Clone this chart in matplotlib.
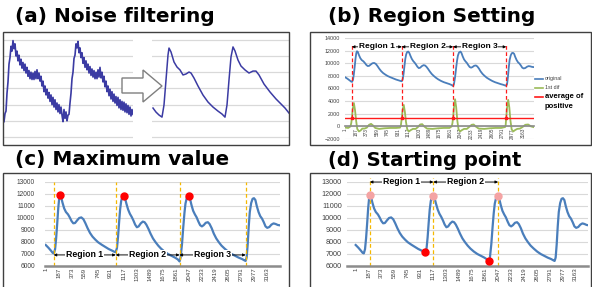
import numpy as np
import matplotlib.pyplot as plt
from matplotlib.patches import Rectangle, Polygon
from matplotlib.lines import Line2D

plt.rcParams['font.family'] = ['Liberation Sans', 'DejaVu Sans']

W, H = 592, 287

# (a) raw sensor trace (one sample per pixel column) and the filtered trace
raw_val = [0.95, 1.45, 1.6, 2.7, 3.4, 4.5, 4.9, 5.6, 5.3, 5.95,
           5.45, 5.75, 5.0, 5.3, 4.7, 5.05, 4.45, 4.8, 4.25, 4.6,
           4.1, 4.5, 3.95, 4.3, 3.75, 4.1, 3.6, 4.0, 3.55, 3.95,
           3.55, 4.05, 3.6, 4.15, 3.6, 3.95, 3.45, 3.75, 3.15, 3.45,
           2.8, 3.15, 2.6, 2.95, 2.4, 2.75, 2.2, 2.6, 2.0, 2.45,
           1.85, 2.3, 1.7, 2.1, 1.55, 2.0, 1.45, 1.85, 1.35, 0.95,
           1.7, 1.15, 1.55, 1.0, 1.35, 1.4, 2.1, 2.7, 3.6, 4.0,
           4.85, 5.05, 5.75, 5.5, 5.9, 5.2, 5.5, 4.9, 5.2, 4.55,
           4.9, 4.3, 4.7, 4.15, 4.5, 3.95, 4.35, 3.8, 4.2, 3.7,
           4.1, 3.6, 4.0, 3.6, 4.15, 3.7, 4.3, 3.65, 4.0, 3.4,
           3.75, 3.1, 3.45, 2.8, 3.15, 2.55, 2.95, 2.35, 2.8, 2.2,
           2.65, 2.1, 2.5, 1.95, 2.45, 1.8, 2.3, 1.7, 2.2, 1.65,
           2.15, 1.55, 2.05, 1.5, 1.95, 1.4, 1.85, 1.3, 1.7, 1.4]
filt_x = [0, 3, 6, 9, 11, 13, 15, 16, 18, 21, 24, 27, 30, 33, 36, 38, 41, 45, 50, 55,
          60, 65, 69, 72, 74, 76, 78, 80, 82, 85, 88, 92, 96, 100, 103, 106, 111, 117,
          123, 128, 132, 136]
filt_val = [1.79, 1.54, 1.36, 1.23, 1.98, 3.52, 5.06, 5.49, 5.25, 4.63, 4.32, 4.14,
            3.83, 3.89, 4.01, 3.95, 3.64, 3.15, 2.59, 2.16, 1.85, 1.6, 1.42, 1.23,
            1.98, 3.52, 4.94, 5.56, 5.31, 4.75, 4.38, 4.14, 3.95, 4.07, 4.07, 3.83,
            3.27, 2.78, 2.35, 2.04, 1.79, 1.48]

# (b)-(d) original signal
sig_x = [1, 40, 80, 100, 118, 135, 150, 165, 180, 193,
         205, 220, 240, 265, 290, 320, 345, 370, 395, 420,
         450, 480, 510, 540, 570, 600, 635, 670, 710, 750,
         800, 850, 900, 950, 985, 1002, 1020, 1035, 1050, 1065,
         1080, 1097, 1117, 1135, 1155, 1180, 1205, 1230, 1255, 1280,
         1305, 1330, 1360, 1390, 1415, 1440, 1470, 1500, 1535, 1570,
         1610, 1650, 1700, 1750, 1800, 1850, 1890, 1915, 1930, 1950,
         1968, 1985, 2000, 2020, 2047, 2065, 2085, 2110, 2135, 2160,
         2185, 2210, 2235, 2260, 2290, 2320, 2345, 2375, 2405, 2440,
         2475, 2515, 2560, 2610, 2660, 2710, 2760, 2810, 2840, 2860,
         2875, 2890, 2905, 2920, 2940, 2960, 2980, 3000, 3020, 3045,
         3070, 3095, 3120, 3145, 3170, 3200, 3230, 3260, 3290, 3320,
         3340]
sig_val = [7750, 7520, 7250, 7100, 7050, 7400, 8300, 9500, 10800, 11600,
           11900, 11800, 11300, 10800, 10500, 10300, 10050, 9750, 9560, 9580,
           9800, 10000, 10050, 9900, 9550, 9150, 8750, 8450, 8200, 7980,
           7780, 7600, 7420, 7280, 7180, 7150, 7500, 8400, 9600, 10700,
           11400, 11780, 11850, 11650, 11200, 10700, 10350, 10100, 9800, 9450,
           9230, 9300, 9550, 9700, 9650, 9450, 9100, 8700, 8300, 8000,
           7700, 7450, 7200, 7000, 6850, 6700, 6550, 6380, 6700, 7800,
           9200, 10400, 11200, 11700, 11850, 11600, 11100, 10600, 10300, 10050,
           9700, 9400, 9300, 9400, 9600, 9650, 9500, 9150, 8700, 8300,
           8000, 7700, 7450, 7200, 7000, 6850, 6700, 6580, 6480, 6420,
           6700, 7800, 9300, 10500, 11250, 11600, 11650, 11500, 11000, 10500,
           10150, 9950, 9650, 9300, 9180, 9250, 9450, 9550, 9500, 9420,
           9400]
dif_x = [1, 50, 90, 105, 115, 130, 150, 170, 190, 210,
         240, 270, 300, 340, 380, 420, 455, 490, 530, 600,
         700, 800, 900, 970, 985, 1002, 1017, 1037, 1057, 1077,
         1100, 1130, 1160, 1200, 1250, 1290, 1330, 1365, 1400, 1450,
         1550, 1650, 1750, 1850, 1890, 1903, 1915, 1930, 1950, 1970,
         1990, 2012, 2040, 2070, 2110, 2160, 2200, 2245, 2280, 2315,
         2370, 2470, 2570, 2670, 2770, 2840, 2850, 2860, 2875, 2895,
         2915, 2935, 2957, 2985, 3015, 3055, 3105, 3150, 3200, 3250,
         3300, 3340]
dif_val = [-200, -250, 0, 600, 1400, 2800, 3700, 2600, 900, -400,
           -800, -650, -350, -350, -200, 250, 400, 150, -250, -400,
           -300, -250, -250, -200, 100, 1300, 2600, 3400, 2300, 700,
           -500, -800, -600, -400, -400, -100, 300, 350, 0, -350,
           -400, -300, -250, -250, 0, 500, 1400, 3000, 4300, 3000,
           900, -500, -800, -600, -400, -400, -100, 250, 300, 0,
           -350, -400, -300, -250, -250, -100, 200, 1400, 3000, 4200,
           3000, 900, -500, -800, -600, -400, -350, -100, 250, 300,
           0, -100]
avg_positive = 1300
region_edges = [115, 1002, 1915, 2860]
peak_x = [205, 1117, 2047]
start_x = [1002, 1915]
region_names = ['Region 1', 'Region 2', 'Region 3']
cat_ticks = [1, 187, 373, 559, 745, 931, 1117, 1303, 1489, 1675, 1861, 2047,
             2233, 2419, 2605, 2791, 2977, 3163]

BLUE = '#4A7EBB'
GREEN = '#9BBB59'
RED = '#FF1A1A'
GOLD = '#F5B800'
PINK = '#F4A3A3'
INK = '#3B3BA3'
GRID = '#D9D9D9'
AXIS = '#8C8C8C'

sig_at = dict(zip(sig_x, sig_val))


def box(l, t, r, b):
    return [l / W, 1 - b / H, (r - l) / W, (b - t) / H]


fig = plt.figure(figsize=(W / 100, H / 100), dpi=100)

# panel frames
for l, t, r, b in [(3, 32, 289, 145), (310, 32, 591, 145),
                   (3, 173, 289, 300), (310, 173, 591, 300)]:
    fig.patches.append(Rectangle((l / W, 1 - b / H), (r - l) / W, (b - t) / H,
                                 transform=fig.transFigure, fill=False,
                                 ec='#404040', lw=1.0))


def title(px, py, s, width_px):
    t = fig.text(px / W, 1 - py / H, s, fontsize=12, fontweight='bold',
                 family='DejaVu Sans', ha='left', va='center')
    w = t.get_window_extent(fig.canvas.get_renderer()).width
    t.set_fontsize(12 * width_px / w)


title(15, 16, '(a) Noise filtering', 198)
title(328, 16, '(b) Region Setting', 206)
title(15, 159, '(c) Maximum value', 213)
title(328, 161, '(d) Starting point', 193)


def plain(ax):
    ax.set_ylim(-0.49, 6.48)
    ax.set_yticks(range(7))
    ax.grid(axis='y', color=GRID, lw=0.9)
    ax.set_xticks([])
    ax.tick_params(left=False, labelleft=False)
    for s in ax.spines.values():
        s.set_visible(False)
    ax.patch.set_alpha(0)


# (a)
ax_raw = fig.add_axes(box(3, 32, 133, 145))
ax_raw.plot(np.arange(len(raw_val)), raw_val, color=INK, lw=1.2)
ax_raw.set_xlim(-1, 129)
plain(ax_raw)

ax_filt = fig.add_axes(box(152, 32, 289, 145))
ax_filt.plot(filt_x, filt_val, color=INK, lw=1.1)
ax_filt.set_xlim(-1, 136)
plain(ax_filt)

arrow_px = [(122, 78), (143, 78), (143, 70), (162, 86), (143, 102), (143, 93), (122, 93)]
fig.patches.append(Polygon([(x / W, 1 - y / H) for x, y in arrow_px], closed=True,
                           transform=fig.transFigure, fc='white', ec='#7F7F7F',
                           lw=1.0, zorder=5))


def excel_axes(ax, yticks, fs, ypad, xfs):
    ax.set_yticks(yticks)
    ax.grid(axis='y', color=GRID, lw=0.8)
    ax.set_axisbelow(True)
    ax.set_xticks(cat_ticks)
    ax.set_xticklabels([str(v) for v in cat_ticks], rotation=90, fontsize=xfs,
                       color='#404040')
    ax.tick_params(axis='y', length=0, labelsize=fs, pad=ypad, labelcolor='#404040')
    ax.tick_params(axis='x', length=0, pad=1.2)
    for s in ['top', 'left', 'right']:
        ax.spines[s].set_visible(False)
    ax.spines['bottom'].set_color(AXIS)


def region_arrows(ax, edges, y, names, fs):
    for k, name in enumerate(names):
        x0, x1 = edges[k], edges[k + 1]
        ax.annotate('', xy=(x1, y), xytext=(x0, y), annotation_clip=False,
                    arrowprops=dict(arrowstyle='<|-|>', color='black', lw=0.6,
                                    mutation_scale=4, shrinkA=0, shrinkB=0))
        ax.text((x0 + x1) / 2, y, name, fontsize=fs, fontweight='bold',
                ha='center', va='center', zorder=6, clip_on=False,
                bbox=dict(fc='white', ec='none', pad=0.6))


# (b)
axb = fig.add_axes(box(344.6, 38, 533.5, 139))
axb.spines['bottom'].set_position(('data', 0))
axb.plot(sig_x, sig_val, color=BLUE, lw=1.3)
axb.plot(dif_x, dif_val, color=GREEN, lw=1.3)
axb.axhline(avg_positive, color=RED, lw=1.0)
for x in region_edges:
    axb.plot([x, x], [avg_positive, 13200], color=RED, ls=(0, (3, 2)), lw=0.9)
axb.plot(region_edges, [avg_positive] * len(region_edges), 's', color=RED, ms=2)
axb.set_xlim(-15, 3345)
axb.set_ylim(-2000, 14000)
excel_axes(axb, range(-2000, 14001, 2000), 3.9, 3.3, 3.3)
axb.spines['bottom'].set_linewidth(1.2)
region_arrows(axb, region_edges, 12600, region_names, 6)

# legend of (b)
for y, c, lab in [(78.7, BLUE, 'original'), (88, GREEN, '1st dif')]:
    fig.add_artist(Line2D([535 / W, 543 / W], [1 - y / H] * 2, color=c, lw=1.2))
    fig.text(545 / W, 1 - y / H, lab, fontsize=3.8, va='center', color='#404040')
fig.add_artist(Line2D([535 / W, 543 / W], [1 - 97 / H] * 2, color=RED, lw=1.2))
fig.text(545 / W, 1 - 97 / H, 'average of', fontsize=5.5, fontweight='bold', va='center')
fig.text(545 / W, 1 - 106 / H, 'positive', fontsize=5.5, fontweight='bold', va='center')

# (c)
axc = fig.add_axes(box(44.6, 182, 279.5, 266))
axc.plot(sig_x, sig_val, color=BLUE, lw=1.6)
for x in region_edges:
    axc.axvline(x, color=GOLD, ls=(0, (3, 2)), lw=0.9)
axc.plot(peak_x, [sig_at[x] for x in peak_x], 'o', color='red', ms=5, zorder=7)
axc.set_xlim(-15, 3345)
axc.set_ylim(6000, 13000)
excel_axes(axc, range(6000, 13001, 1000), 4.8, 7, 4.4)
axc.spines['bottom'].set_linewidth(1.8)
region_arrows(axc, region_edges, 6920, region_names, 6.3)

# (d)
axd = fig.add_axes(box(347, 182, 588, 266))
axd.plot(sig_x, sig_val, color=BLUE, lw=1.6)
for x in peak_x:
    axd.plot([x, x], [6000, 13300], color=GOLD, ls=(0, (3, 2)), lw=0.9, clip_on=False)
axd.plot(peak_x, [sig_at[x] for x in peak_x], 'o', color=PINK, ms=5, zorder=7)
axd.plot(start_x, [sig_at[x] for x in start_x], 'o', color='red', ms=5, zorder=7)
axd.set_xlim(-124, 3340)
axd.set_ylim(6000, 13000)
excel_axes(axd, range(6000, 13001, 1000), 5.2, 3.6, 4.4)
axd.spines['bottom'].set_linewidth(1.8)
region_arrows(axd, peak_x, 13000, region_names[:2], 6.3)

fig.savefig('out.png', dpi=100)
